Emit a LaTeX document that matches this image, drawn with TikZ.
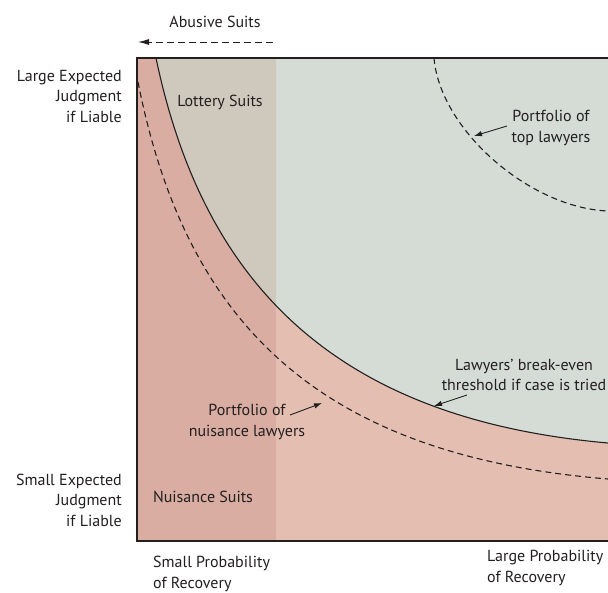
\documentclass[tikz,border=0pt]{standalone}
\usepackage{fontspec}
\setmainfont{PT Sans}
\usetikzlibrary{arrows.meta}
\definecolor{nuisancepink}{RGB}{217,173,161}
\definecolor{lightpink}{RGB}{228,191,177}
\definecolor{lotterygray}{RGB}{206,200,189}
\definecolor{topgreen}{RGB}{213,220,213}
\definecolor{ink}{RGB}{35,31,32}
\tikzstyle{lbl}=[inner sep=0pt, text=ink, font=\fontsize{16}{20.5}\selectfont, align=center]
\tikzstyle{lblr}=[lbl, align=right, anchor=east]
\tikzstyle{lbll}=[lbl, align=left, anchor=west]
\tikzstyle{pointer}=[line width=0.9pt, draw=ink, -{Latex[length=8pt,width=5.5pt]}]
\tikzstyle{portfolio}=[draw=ink, line width=1.1pt, dash pattern=on 6pt off 4pt]
\tikzstyle{threshold}=[draw=ink, line width=1.1pt]
\tikzstyle{frame}=[draw=ink, line width=1.4pt]

\begin{document}
\begin{tikzpicture}[x=1pt, y=-1pt]
	\useasboundingbox (0,0) rectangle (608,592);
	% regions
	\fill[nuisancepink] (137,58) rectangle (276,541);
	\fill[lightpink] (276,58) rectangle (608,541);
	\fill[topgreen] (156,58) .. controls (204,287) and (338,419) .. (608,443) -- (608,58) -- cycle;
	\begin{scope}
		\clip (137,58) rectangle (276,541);
		\fill[lotterygray] (156,58) .. controls (204,287) and (338,419) .. (608,443) -- (608,58) -- cycle;
	\end{scope}
	%
	\draw[portfolio] (138,82) .. controls (185,320) and (315,455) .. (608,479);
	\draw[portfolio] (434,58) .. controls (440,130) and (530,208) .. (608,211);
	\draw[threshold] (156,58) .. controls (204,287) and (338,419) .. (608,443);
	\draw[frame] (608,58) -- (137,58) -- (137,541) -- (608,541);
	%
	\draw (215,22) node[lbl] (abusive) {Abusive Suits};
	\coordinate (abusiveStart) at (273,42);
	\coordinate (abusiveEnd) at (138,42);
	\draw[pointer, dash pattern=on 7pt off 4pt, -{Latex[length=11pt,width=6pt]}] (abusiveStart) -- (abusiveEnd);
	%
	\draw (122,96) node[lblr] (largeJ) {Large Expected\\Judgment\\if Liable};
	\draw (122,500) node[lblr] (smallJ) {Small Expected\\Judgment\\if Liable};
	\draw (153,574) node[lbll] (smallP) {Small Probability\\of Recovery};
	\draw (487,568) node[lbll] (largeP) {Large Probability\\of Recovery};
	\draw (220,102) node[lbl] (lottery) {Lottery Suits};
	\draw (203,497) node[lbl] (nuisance) {Nuisance Suits};
	%
	\draw (551,128) node[lbl] (topLbl) {Portfolio of\\top lawyers};
	\draw (524,375) node[lbl] (breakLbl) {Lawyers’ break-even\\threshold if case is tried};
	\draw (247,422) node[lbl] (nuisLbl) {Portfolio of\\nuisance lawyers};
	%
	\coordinate (topTip) at (474,136);
	\coordinate (breakTip) at (434,406);
	\coordinate (nuisTip) at (322,403);
	\draw[pointer] (507,126) -- (topTip);
	\draw[pointer] (467,395) -- (breakTip);
	\draw[pointer] (290,415) -- (nuisTip);
\end{tikzpicture}
\end{document}
